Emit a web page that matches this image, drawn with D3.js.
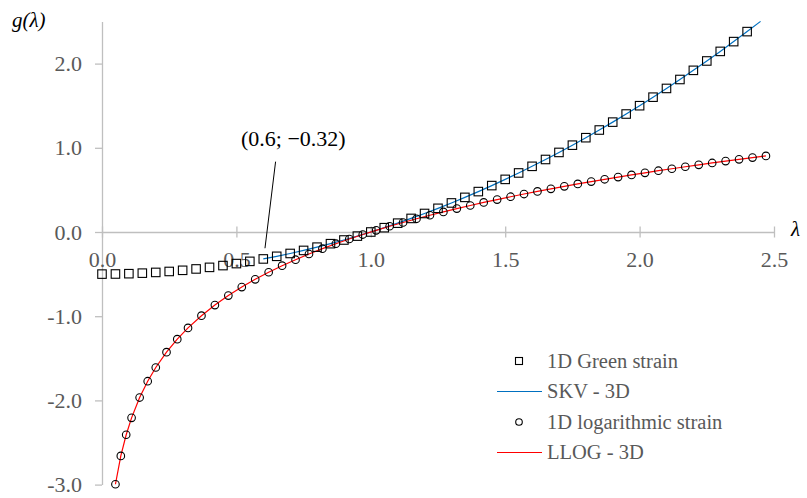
<!DOCTYPE html>
<html><head><meta charset="utf-8">
<script src="https://cdn.jsdelivr.net/npm/d3@7/dist/d3.min.js"></script>
<style>
html,body{margin:0;padding:0;background:#fff;}
svg text{font-family:'Liberation Serif','Times New Roman',serif !important;}
</style></head>
<body><svg id="c" width="807" height="498"></svg>
<script>
// ---- data ----
const greenLambda = [0,0.05,0.1,0.15,0.2,0.25,0.3,0.35,0.4,0.45,0.5,0.55,0.6,0.65,0.7,0.75,0.8,0.85,0.9,0.95,1.0,1.05,1.1,1.15,1.2,1.25,1.3,1.35,1.4,1.45,1.5,1.55,1.6,1.65,1.7,1.75,1.8,1.85,1.9,1.95,2.0,2.05,2.1,2.15,2.2,2.25,2.3,2.35,2.4];
const greenStrain = [-0.5,-0.49875,-0.495,-0.48875,-0.48,-0.46875,-0.455,-0.43875,-0.42,-0.39875,-0.375,-0.34875,-0.32,-0.28875,-0.255,-0.21875,-0.18,-0.13875,-0.095,-0.04875,0,0.05125,0.105,0.16125,0.22,0.28125,0.345,0.41125,0.48,0.55125,0.625,0.70125,0.78,0.86125,0.945,1.03125,1.12,1.21125,1.305,1.40125,1.5,1.60125,1.705,1.81125,1.92,2.03125,2.145,2.26125,2.38];
const skvLambda = [0.6,0.65,0.7,0.75,0.8,0.85,0.9,0.95,1.0,1.05,1.1,1.15,1.2,1.25,1.3,1.35,1.4,1.45,1.5,1.55,1.6,1.65,1.7,1.75,1.8,1.85,1.9,1.95,2.0,2.05,2.1,2.15,2.2,2.25,2.3,2.35,2.4,2.45];
const skvStrain = [-0.32,-0.28875,-0.255,-0.21875,-0.18,-0.13875,-0.095,-0.04875,0,0.05125,0.105,0.16125,0.22,0.28125,0.345,0.41125,0.48,0.55125,0.625,0.70125,0.78,0.86125,0.945,1.03125,1.12,1.21125,1.305,1.40125,1.5,1.60125,1.705,1.81125,1.92,2.03125,2.145,2.26125,2.38,2.50125];
const logLambda = [0.05,0.07,0.09,0.11,0.14,0.17,0.2,0.24,0.28,0.32,0.37,0.42,0.47,0.52,0.57,0.62,0.67,0.72,0.77,0.82,0.87,0.92,0.97,1.02,1.07,1.12,1.17,1.22,1.27,1.32,1.37,1.42,1.47,1.52,1.57,1.62,1.67,1.72,1.77,1.82,1.87,1.92,1.97,2.02,2.07,2.12,2.17,2.22,2.27,2.32,2.37,2.42,2.47];
const logStrain = [-2.996,-2.659,-2.408,-2.207,-1.966,-1.772,-1.609,-1.427,-1.273,-1.139,-0.994,-0.868,-0.755,-0.654,-0.562,-0.478,-0.400,-0.329,-0.261,-0.198,-0.139,-0.083,-0.030,0.020,0.068,0.113,0.157,0.199,0.239,0.278,0.315,0.351,0.385,0.419,0.451,0.482,0.513,0.542,0.571,0.599,0.626,0.652,0.678,0.703,0.728,0.751,0.775,0.798,0.820,0.842,0.863,0.884,0.904];
const llogLambda = logLambda;
const llogStrain = logStrain;
const xTicks = [0,0.5,1.0,1.5,2.0,2.5];
const yTicks = [-3,-2,-1,0,1,2];
const legendLabels = ["1D Green strain","SKV - 3D","1D logarithmic strain","LLOG - 3D"];
const annotationText = "(0.6; \u22120.32)";
const annotationPoint = [0.6,-0.32];

// ---- chart ----
const FONT = "'Liberation Serif','Times New Roman',serif";
const svg = d3.select("#c");
const x = d3.scaleLinear().domain([0,2.5]).range([102,774]);
const y = d3.scaleLinear().domain([-3,2.5]).range([484.6,21.5]);
const axisColor = "#bfbfbf", labelColor = "#595959";

// y axis
const gy = svg.append("g").attr("transform",`translate(${x(0)},0)`)
  .call(d3.axisLeft(y).tickValues(yTicks).tickSize(7).tickSizeOuter(0).tickPadding(13).tickFormat(d=>d.toFixed(1)));
gy.attr("font-family",FONT);
gy.select(".domain").attr("stroke",axisColor).attr("stroke-width",1.3);
gy.selectAll(".tick line").attr("stroke",axisColor).attr("stroke-width",1.3);
gy.selectAll(".tick text").attr("fill",labelColor).attr("font-size",22);
gy.attr("font-size",22);

// x axis at y=0
const gx = svg.append("g").attr("transform",`translate(0,${y(0)})`)
  .call(d3.axisBottom(x).tickValues(xTicks).tickSizeOuter(0).tickFormat(d=>d.toFixed(1)));
gx.attr("font-family",FONT).attr("font-size",22);
gx.select(".domain").attr("stroke",axisColor).attr("stroke-width",1.3);
gx.selectAll(".tick line").attr("stroke",axisColor).attr("stroke-width",1.3).attr("y1",-5.5).attr("y2",5.5);
gx.selectAll(".tick text").attr("fill",labelColor).attr("y",27).attr("dy","0.35em");

// axis titles
svg.append("text").attr("x",12).attr("y",27).attr("font-family",FONT).attr("font-style","italic").attr("font-size",21).attr("fill","#000").text("g(\u03bb)");
svg.append("text").attr("x",791).attr("y",236).attr("font-family",FONT).attr("font-style","italic").attr("font-size",21).attr("fill","#000").text("\u03bb");

// lines
const line = d3.line().x(d=>x(d[0])).y(d=>y(d[1]));
svg.append("path").datum(skvLambda.map((l,i)=>[l,skvStrain[i]]))
  .attr("d",line).attr("fill","none").attr("stroke","#0070c0").attr("stroke-width",1.2);
svg.append("path").datum(llogLambda.map((l,i)=>[l,llogStrain[i]]))
  .attr("d",line).attr("fill","none").attr("stroke","#ff0000").attr("stroke-width",1.2);

// markers
const sq = 8.5;
svg.append("g").selectAll("rect").data(greenLambda.map((l,i)=>[l,greenStrain[i]])).join("rect")
  .attr("x",d=>x(d[0])-sq/2).attr("y",d=>y(d[1])-sq/2).attr("width",sq).attr("height",sq)
  .attr("fill","none").attr("stroke","#000").attr("stroke-width",1.1);
svg.append("g").selectAll("circle").data(logLambda.map((l,i)=>[l,logStrain[i]])).join("circle")
  .attr("cx",d=>x(d[0])).attr("cy",d=>y(d[1])).attr("r",3.8)
  .attr("fill","none").attr("stroke","#000").attr("stroke-width",1.1);

// annotation
const ax = x(annotationPoint[0]), ay = y(annotationPoint[1]);
svg.append("line").attr("x1",ax+1.7).attr("y1",ay-10.7).attr("x2",ax+12.3).attr("y2",ay-97.3)
  .attr("stroke","#000").attr("stroke-width",1);
svg.append("text").attr("x",ax+30).attr("y",ay-112.5).attr("text-anchor","middle")
  .attr("font-family",FONT).attr("font-size",22).attr("fill","#000").text(annotationText);

// legend
const lg = svg.append("g");
const lx = 519, ly0 = 361, dy = 30.5;
legendLabels.forEach((t,i)=>{
  const yy = ly0 + i*dy;
  if(i===0) lg.append("rect").attr("x",lx-3.5).attr("y",yy-3.5).attr("width",7).attr("height",7).attr("fill","none").attr("stroke","#000").attr("stroke-width",1.1);
  if(i===2) lg.append("circle").attr("cx",lx).attr("cy",yy).attr("r",3.3).attr("fill","none").attr("stroke","#000").attr("stroke-width",1.1);
  if(i===1||i===3) lg.append("line").attr("x1",497).attr("x2",542).attr("y1",yy).attr("y2",yy)
     .attr("stroke",i===1?"#0070c0":"#ff0000").attr("stroke-width",1.2);
  lg.append("text").attr("x",547).attr("y",yy).attr("dy","0.33em").attr("font-family",FONT).attr("font-size",20.5).attr("fill",labelColor).text(t);
});
</script></body></html>
